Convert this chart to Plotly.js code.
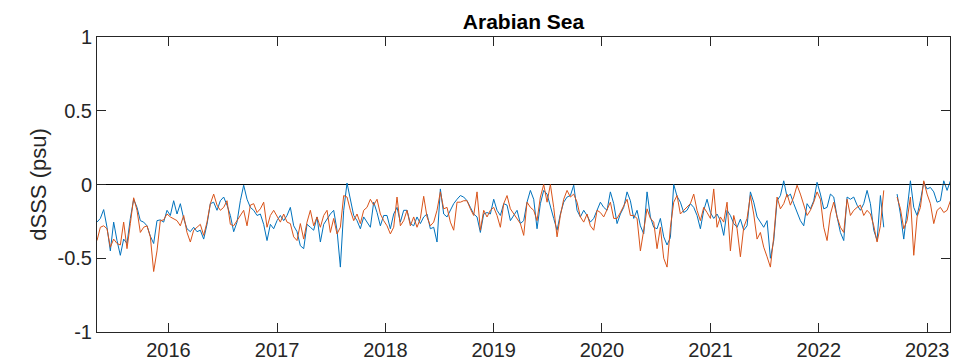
<!DOCTYPE html>
<html>
<head>
<meta charset="utf-8">
<script src="https://cdn.plot.ly/plotly-3.0.1.min.js"></script>
<style>html,body{margin:0;padding:0;background:#fff;}#chart{width:973px;height:361px;}</style>
</head>
<body>
<div id="chart"></div>
<script>
// Sampling grid of the series (first sample date, spacing in days)
var startDate = '2015-05-05';
var stepDays = 11.236;

// Blue series (dSSS, psu)
var blueVals = [
-0.255,-0.23,-0.17,-0.29,-0.45,-0.255,-0.38,-0.48,-0.37,-0.40,-0.23,-0.10,-0.155,-0.245,-0.255,-0.28,-0.35,-0.40,-0.245,-0.24,-0.255,-0.175,-0.21,-0.11,-0.20,-0.13,-0.23,-0.30,
-0.32,-0.29,-0.32,-0.31,-0.37,-0.27,-0.13,-0.12,-0.175,-0.11,-0.085,-0.14,-0.21,-0.32,-0.255,-0.11,-0.005,-0.10,-0.155,-0.175,-0.21,-0.20,-0.27,-0.38,-0.27,-0.30,-0.245,-0.21,-0.245,
-0.21,-0.155,-0.28,-0.32,-0.415,-0.435,-0.27,-0.29,-0.31,-0.22,-0.39,-0.27,-0.23,-0.20,-0.175,-0.31,-0.56,-0.175,0.01,-0.11,-0.21,-0.245,-0.30,-0.22,-0.255,-0.29,-0.12,-0.19,
-0.28,-0.21,-0.21,-0.30,-0.20,-0.155,-0.255,-0.175,-0.175,-0.265,-0.28,-0.22,-0.265,-0.22,-0.20,-0.30,-0.29,-0.39,-0.03,-0.20,-0.22,-0.175,-0.13,-0.10,-0.075,-0.085,-0.11,-0.155,-0.20,
-0.22,-0.325,-0.20,-0.19,-0.20,-0.10,-0.175,-0.21,-0.13,-0.14,-0.245,-0.21,-0.175,-0.265,-0.245,-0.12,-0.04,-0.10,-0.30,-0.13,-0.04,-0.065,-0.155,-0.23,-0.31,-0.20,-0.12,-0.085,
-0.075,-0.005,-0.175,-0.22,-0.175,-0.21,-0.255,-0.23,-0.175,-0.12,-0.155,-0.175,-0.05,-0.13,-0.265,-0.20,-0.155,-0.05,-0.11,-0.23,-0.175,-0.28,-0.335,-0.05,-0.22,-0.29,-0.30,-0.23,-0.355,
-0.41,-0.36,0.0,-0.08,-0.12,-0.19,-0.175,-0.13,-0.155,-0.21,-0.30,-0.175,-0.10,-0.19,-0.23,-0.20,-0.245,-0.345,-0.175,-0.21,-0.265,-0.29,-0.235,-0.31,-0.28,-0.05,-0.12,-0.22,
-0.255,-0.29,-0.245,-0.50,-0.38,-0.11,-0.075,0.025,-0.085,-0.065,-0.13,-0.19,-0.245,-0.28,-0.13,-0.165,-0.11,0.015,-0.065,-0.165,-0.155,-0.065,-0.085,-0.22,-0.325,-0.38,-0.085,-0.10,-0.085,
-0.14,-0.175,-0.13,-0.04,-0.13,-0.31,-0.38,-0.075,-0.29,null,null,null,-0.065,-0.20,-0.37,-0.175,0.025,-0.155,-0.21,-0.11,0.015,-0.03,-0.02,-0.05,-0.12,-0.11,0.025,-0.04,0.025
];

// Orange series (dSSS, psu)
var orangeVals = [
-0.38,-0.29,-0.28,-0.30,-0.425,-0.37,-0.40,-0.41,-0.255,-0.435,-0.265,-0.09,-0.175,-0.325,-0.29,-0.28,-0.355,-0.59,-0.45,-0.245,-0.24,-0.20,-0.22,-0.235,-0.245,-0.28,-0.21,-0.325,
-0.39,-0.31,-0.29,-0.27,-0.345,-0.255,-0.13,-0.065,-0.14,-0.175,-0.155,-0.11,-0.27,-0.28,-0.245,-0.21,-0.175,-0.28,-0.14,-0.13,-0.19,-0.165,-0.12,-0.29,-0.21,-0.175,-0.22,-0.255,-0.20,
-0.255,-0.265,-0.355,-0.38,-0.265,-0.37,-0.255,-0.175,-0.28,-0.22,-0.29,-0.21,-0.175,-0.325,-0.23,-0.335,-0.29,-0.075,-0.085,-0.175,-0.245,-0.20,-0.265,-0.175,-0.155,-0.10,-0.14,-0.10,
-0.20,-0.245,-0.28,-0.335,-0.29,-0.085,-0.28,-0.245,-0.175,-0.28,-0.22,-0.29,-0.23,-0.08,-0.22,-0.28,-0.255,-0.175,-0.05,-0.165,-0.155,-0.255,-0.31,-0.12,-0.12,-0.11,-0.11,-0.165,-0.21,
-0.05,-0.31,-0.175,-0.22,-0.175,-0.155,-0.21,-0.29,-0.13,-0.075,-0.165,-0.20,-0.23,-0.265,-0.345,-0.12,-0.155,-0.175,-0.245,-0.085,0.0,-0.12,0.0,-0.155,-0.355,-0.21,-0.10,-0.04,
-0.085,-0.065,-0.12,-0.22,-0.255,-0.20,-0.28,-0.31,-0.175,-0.19,-0.22,-0.175,-0.12,-0.23,-0.23,-0.19,-0.14,-0.10,-0.21,-0.21,-0.23,-0.45,-0.31,-0.165,-0.23,-0.255,-0.435,-0.29,-0.50,
-0.56,-0.29,-0.12,-0.075,-0.20,-0.175,-0.155,-0.13,-0.065,-0.175,-0.245,-0.155,-0.19,-0.23,-0.03,-0.29,-0.22,-0.255,-0.12,-0.45,-0.21,-0.30,-0.49,-0.29,-0.23,-0.075,-0.20,-0.37,
-0.325,-0.425,-0.49,-0.56,-0.355,-0.085,-0.165,-0.13,-0.065,-0.14,-0.085,-0.005,-0.065,-0.14,-0.21,-0.175,-0.12,-0.05,-0.10,-0.29,-0.38,-0.20,-0.12,-0.22,-0.29,-0.325,-0.10,-0.21,-0.175,
-0.155,-0.14,-0.21,-0.175,-0.20,-0.28,-0.39,-0.28,-0.04,null,null,null,-0.085,-0.165,-0.30,-0.245,-0.085,-0.48,-0.22,-0.155,0.025,-0.065,-0.13,-0.265,-0.175,-0.155,-0.19,-0.175,-0.11
];

// Axis labels
var yTickVals = [-1, -0.5, 0, 0.5, 1];
var yTickText = ['-1', '-0.5', '0', '0.5', '1'];
var titleText = 'Arabian Sea';
var yTitle = 'dSSS (psu)';
var xRange = ['2015-05-05', '2023-03-19'];

function buildDates(n) {
  var t0 = Date.parse(startDate + 'T00:00:00Z');
  var out = [];
  for (var i = 0; i < n; i++) {
    out.push(new Date(t0 + i * stepDays * 86400000).toISOString().slice(0, 19).replace('T', ' '));
  }
  return out;
}
var dates = buildDates(blueVals.length);

var font = 'Liberation Sans, Arial, Helvetica, sans-serif';
var axisCol = '#262626';

var traces = [
  {x: dates, y: blueVals, type: 'scatter', mode: 'lines', line: {color: '#0072BD', width: 1}, connectgaps: false, hoverinfo: 'skip'},
  {x: dates, y: orangeVals, type: 'scatter', mode: 'lines', line: {color: '#D95319', width: 1}, connectgaps: false, hoverinfo: 'skip'}
];

var layout = {
  width: 973, height: 361,
  margin: {l: 97, r: 23, t: 37, b: 29, pad: 0},
  paper_bgcolor: '#fff', plot_bgcolor: '#fff',
  showlegend: false,
  font: {family: font, color: axisCol, size: 20},
  title: {text: '<b>' + titleText + '</b>', x: 0.5, xref: 'paper', xanchor: 'center', y: 0.94, yref: 'container', yanchor: 'middle', font: {family: font, size: 21, color: '#000'}},
  xaxis: {
    type: 'date', range: xRange, tickformat: '%Y', dtick: 'M12', tick0: '2016-01-01',
    ticks: 'inside', ticklen: 9, tickcolor: axisCol, tickwidth: 1,
    showline: true, linecolor: axisCol, linewidth: 1, mirror: 'ticks',
    showgrid: false, zeroline: false,
    tickfont: {family: font, size: 20, color: axisCol}
  },
  yaxis: {
    range: [-1, 1], tickmode: 'array', tickvals: yTickVals, ticktext: yTickText,
    ticks: 'inside', ticklen: 9, tickcolor: axisCol, tickwidth: 1,
    showline: true, linecolor: axisCol, linewidth: 1, mirror: 'ticks',
    showgrid: false, zeroline: true, zerolinecolor: '#000', zerolinewidth: 1,
    tickfont: {family: font, size: 20, color: axisCol},
    title: {text: yTitle, font: {family: font, size: 22, color: axisCol}, standoff: 4}
  }
};

Plotly.newPlot('chart', traces, layout, {staticPlot: true, displayModeBar: false});
</script>
</body>
</html>
